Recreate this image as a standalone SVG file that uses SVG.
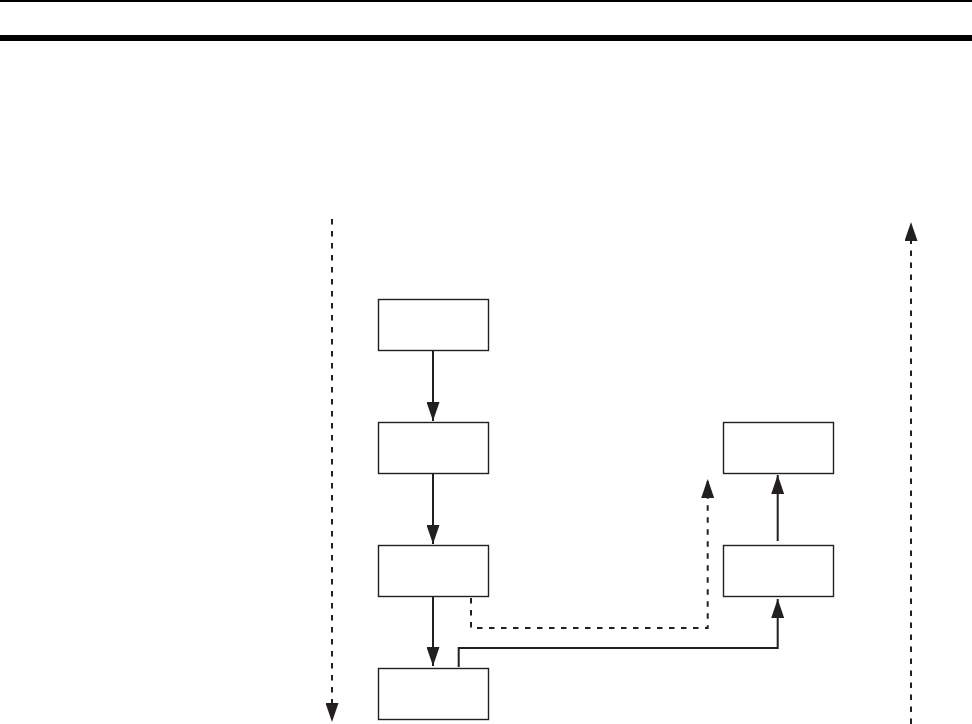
<svg xmlns="http://www.w3.org/2000/svg" width="972" height="724" viewBox="0 0 972 724">
<style>
.box{fill:#fff;stroke:#231f20;stroke-width:1.4}
.ln{fill:none;stroke:#231f20;stroke-width:2}
.dash{stroke-dasharray:5.5 6.5}
</style>
<defs>
<marker id="ah" markerUnits="userSpaceOnUse" markerWidth="19" markerHeight="13" refX="19" refY="6.5" orient="auto">
<path d="M0,0 L19,6.5 L0,13 z" fill="#231f20"/>
</marker>
</defs>
<rect x="0" y="0" width="972" height="2" fill="#000"/>
<rect x="0" y="35" width="972" height="6" fill="#000"/>
<g id="connectors">
<path class="ln dash" d="M332,219 V722" marker-end="url(#ah)"/>
<path class="ln dash" d="M911,724 V222" marker-end="url(#ah)"/>
<path class="ln" d="M433,350 V421" marker-end="url(#ah)"/>
<path class="ln" d="M433,473 V544" marker-end="url(#ah)"/>
<path class="ln" d="M433,596 V666" marker-end="url(#ah)"/>
<path class="ln" d="M777.7,541 V475" marker-end="url(#ah)"/>
<path class="ln" d="M458.7,667 V648 H777.7 V599" marker-end="url(#ah)"/>
<path class="ln dash" d="M471,598 V628 H707.7 V479" marker-end="url(#ah)"/>
</g>
<g id="n1"><rect class="box" x="378.5" y="299.5" width="110" height="51"/></g>
<g id="n2"><rect class="box" x="378.5" y="422.5" width="110" height="51"/></g>
<g id="n3"><rect class="box" x="378.5" y="545.5" width="110" height="51"/></g>
<g id="n4"><rect class="box" x="378.5" y="668.5" width="110" height="51"/></g>
<g id="n5"><rect class="box" x="723.5" y="422.5" width="110" height="51"/></g>
<g id="n6"><rect class="box" x="723.5" y="545.5" width="110" height="51"/></g>
</svg>
